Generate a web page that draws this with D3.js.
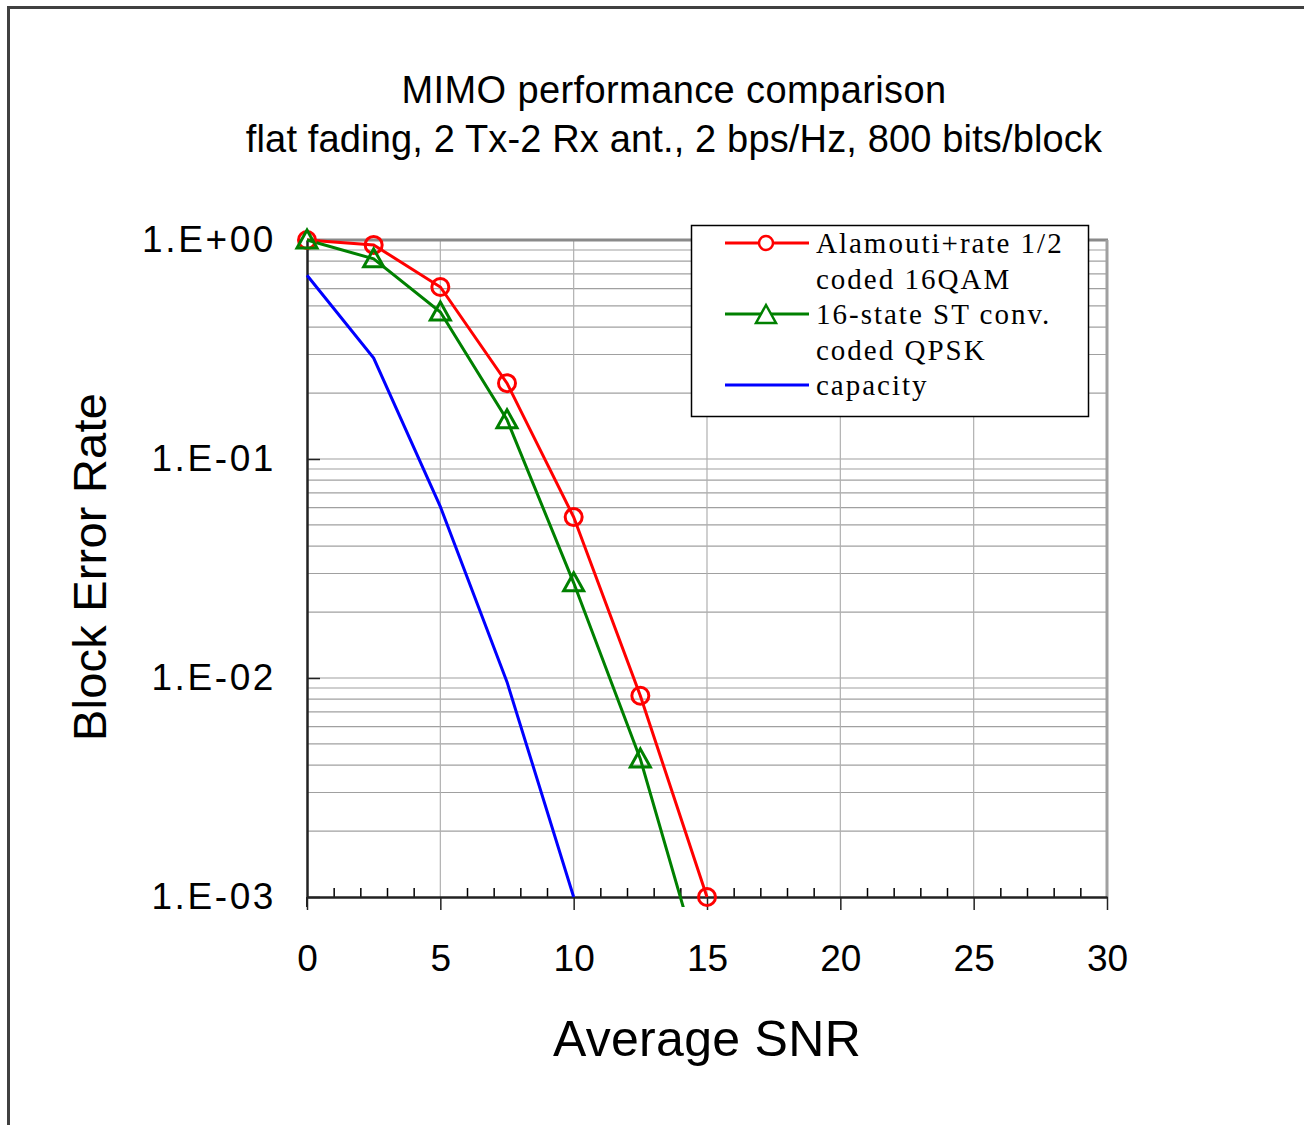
<!DOCTYPE html>
<html><head><meta charset="utf-8">
<script src="https://cdn.jsdelivr.net/npm/d3@7"></script>
<style>body{margin:0;background:#fff}svg{display:block}</style>
</head><body>
<svg id="c" width="1304" height="1125"></svg>
<script>
// ---- data ----
const snr = [0, 2.5, 5, 7.5, 10, 12.5, 15];
const alamoutiBler = [1.0, 0.95, 0.61, 0.222, 0.0543, 0.0083, 0.001];
const stConvBler = [1.0, 0.82, 0.469, 0.151, 0.0272, 0.00427, 0.00038];
const capacitySnr = [0, 2.5, 5, 7.5, 10];
const capacityBler = [0.69, 0.289, 0.0606, 0.0096, 0.001];
const xTicks = [0, 5, 10, 15, 20, 25, 30];
const yTicks = [1, 0.1, 0.01, 0.001];
const yTickLabels = ["1.E+00", "1.E-01", "1.E-02", "1.E-03"];
const titleLines = ["MIMO performance comparison", "flat fading, 2 Tx-2 Rx ant., 2 bps/Hz, 800 bits/block"];
const legendLines = [["Alamouti+rate 1/2", "coded 16QAM"], ["16-state ST conv.", "coded QPSK"], ["capacity"]];

const svg = d3.select("#c");
const X0 = 307, X1 = 1107, Y0 = 897, Y1 = 240;
const x = d3.scaleLinear().domain([0, 30]).range([X0, X1]);
const y = d3.scaleLog().domain([0.001, 1]).range([Y0, Y1]);

// outer frame
svg.append("path").attr("d", `M8.5,1125 L8.5,7.5 L1304,7.5`).attr("fill", "none")
  .attr("stroke", "#404040").attr("stroke-width", 3);

// title
const sans = "Liberation Sans, Arial, sans-serif";
svg.append("text").attr("x", 674).attr("y", 103).attr("text-anchor", "middle")
  .attr("font-family", sans).attr("font-size", 38).attr("letter-spacing", 0.4).text(titleLines[0]);
svg.append("text").attr("x", 674).attr("y", 152).attr("text-anchor", "middle")
  .attr("font-family", sans).attr("font-size", 38).attr("letter-spacing", 0.15).text(titleLines[1]);

// grid: horizontal minor/major
const gridVals = [];
for (let e = -3; e < 0; e++) for (let m = 1; m <= 9; m++) gridVals.push(m * Math.pow(10, e));
svg.append("g").selectAll("line").data(gridVals.filter(v => v > 0.001)).join("line")
  .attr("x1", X0).attr("x2", X1).attr("y1", d => y(d)).attr("y2", d => y(d))
  .attr("stroke", "#a0a0a0").attr("stroke-width", 1.2);
// vertical grid
svg.append("g").selectAll("line").data(xTicks.filter(v => v > 0 && v < 30)).join("line")
  .attr("x1", d => x(d)).attr("x2", d => x(d)).attr("y1", Y1).attr("y2", Y0)
  .attr("stroke", "#b0b0b0").attr("stroke-width", 1.2);
// plot border top/right (gray)
svg.append("line").attr("x1", X0).attr("x2", X1 + 1).attr("y1", Y1).attr("y2", Y1)
  .attr("stroke", "#8a8a8a").attr("stroke-width", 3);
svg.append("line").attr("x1", X1).attr("x2", X1).attr("y1", Y1).attr("y2", Y0)
  .attr("stroke", "#a0a0a0").attr("stroke-width", 3);

// x axis: minor inward ticks
const minor = d3.range(0, 31, 1).filter(v => v % 5 !== 0);
svg.append("g").attr("transform", `translate(0,${Y0})`)
  .call(d3.axisBottom(x).tickValues(minor).tickSizeInner(-9).tickSizeOuter(0).tickFormat(""))
  .call(g => g.select(".domain").remove())
  .call(g => g.selectAll(".tick line").attr("stroke", "#000").attr("stroke-width", 1.5));
// x axis major
svg.append("g").attr("transform", `translate(0,${Y0})`)
  .call(d3.axisBottom(x).tickValues(xTicks).tickSizeInner(13).tickSizeOuter(0).tickPadding(35))
  .call(g => g.select(".domain").attr("stroke", "#222").attr("stroke-width", 2.5))
  .call(g => g.selectAll(".tick line").attr("stroke", "#222").attr("stroke-width", 1.5))
  .call(g => g.selectAll("text").attr("font-family", sans).attr("font-size", 37).attr("fill", "#000"));

// y axis
svg.append("g").attr("transform", `translate(${X0},0)`)
  .call(d3.axisLeft(y).tickValues(yTicks).tickSizeInner(-13).tickSizeOuter(0).tickPadding(31)
    .tickFormat((d, i) => yTickLabels[i]))
  .call(g => g.select(".domain").attr("stroke", "#222").attr("stroke-width", 2.5))
  .call(g => g.selectAll(".tick line").attr("stroke", "#222").attr("stroke-width", 1.5))
  .call(g => g.selectAll("text").attr("font-family", sans).attr("font-size", 37)
    .attr("letter-spacing", 2.6).attr("fill", "#000"));
svg.append("line").attr("x1", X0).attr("x2", X0).attr("y1", Y0).attr("y2", Y0 + 10)
  .attr("stroke", "#222").attr("stroke-width", 2);

// axis titles
svg.append("text").attr("x", 707).attr("y", 1056).attr("text-anchor", "middle")
  .attr("font-family", sans).attr("font-size", 50).attr("letter-spacing", 0.3).text("Average SNR");
svg.append("text").attr("transform", "translate(106,567) rotate(-90)").attr("text-anchor", "middle")
  .attr("font-family", sans).attr("font-size", 47).attr("letter-spacing", 0.2).text("Block Error Rate");

// clip
svg.append("clipPath").attr("id", "clip").append("rect")
  .attr("x", X0 - 2).attr("y", Y1 - 10).attr("width", X1 - X0 + 4).attr("height", Y0 - Y1 + 20);

const line = d3.line().x(d => x(d[0])).y(d => y(d[1]));
const series = [
  {xs: snr, ys: alamoutiBler, color: "#ff0000", marker: "circle"},
  {xs: snr, ys: stConvBler, color: "#008000", marker: "triangle"},
  {xs: capacitySnr, ys: capacityBler, color: "#0000ff", marker: null}
];
const triPath = (cx, cy) => `M${cx},${cy - 10} L${cx + 10},${cy + 8} L${cx - 10},${cy + 8} Z`;

series.forEach(s => {
  const pts = s.xs.map((v, i) => [v, s.ys[i]]);
  svg.append("path").attr("clip-path", "url(#clip)").datum(pts).attr("d", line)
    .attr("fill", "none").attr("stroke", s.color).attr("stroke-width", 3);
});
series.forEach(s => {
  const pts = s.xs.map((v, i) => [v, s.ys[i]]).filter(p => p[1] >= 0.001);
  if (s.marker === "circle") {
    svg.append("g").selectAll("circle").data(pts).join("circle")
      .attr("cx", d => x(d[0])).attr("cy", d => y(d[1])).attr("r", 8.5)
      .attr("fill", "none").attr("stroke", s.color).attr("stroke-width", 3);
  } else if (s.marker === "triangle") {
    svg.append("g").selectAll("path").data(pts).join("path")
      .attr("d", d => triPath(x(d[0]), y(d[1])))
      .attr("fill", "none").attr("stroke", s.color).attr("stroke-width", 3);
  }
});

// legend
const LX = 691.5, LY = 225.5, LW = 397, LH = 191;
svg.append("rect").attr("x", LX).attr("y", LY).attr("width", LW).attr("height", LH)
  .attr("fill", "#fff").attr("stroke", "#000").attr("stroke-width", 1.5);
const serif = "Liberation Serif, Times New Roman, serif";
const rowY = [243, 314, 385];
series.forEach((s, i) => {
  const cy = rowY[i];
  svg.append("line").attr("x1", 725).attr("x2", 809).attr("y1", cy).attr("y2", cy)
    .attr("stroke", s.color).attr("stroke-width", 3);
  if (s.marker === "circle") svg.append("circle").attr("cx", 766).attr("cy", cy).attr("r", 7)
    .attr("fill", "#fff").attr("stroke", s.color).attr("stroke-width", 2.5);
  if (s.marker === "triangle") svg.append("path").attr("d", triPath(766, cy + 1))
    .attr("fill", "#fff").attr("stroke", s.color).attr("stroke-width", 2.5);
  legendLines[i].forEach((t, j) => {
    svg.append("text").attr("x", 816).attr("y", cy + 10 + j * 35.5)
      .attr("font-family", serif).attr("font-size", 29).attr("letter-spacing", 2).text(t);
  });
});
</script>
</body></html>
